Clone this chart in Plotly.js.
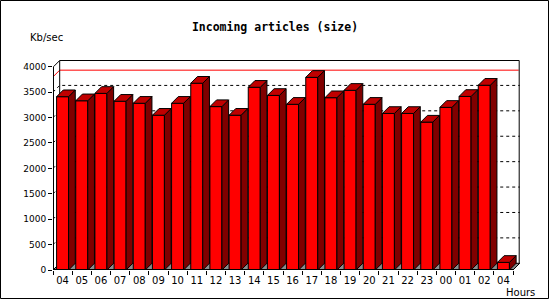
<!DOCTYPE html>
<html><head><meta charset="utf-8">
<script src="https://cdn.plot.ly/plotly-3.0.1.min.js"></script>
<style>html,body{margin:0;padding:0;background:#fff}#chart{width:550px;height:300px}</style>
</head><body><div id="chart"></div>
<script>
// ---- data ----
const hours = ['04','05','06','07','08','09','10','11','12','13','14','15','16','17','18','19','20','21','22','23','00','01','02','04'];
const articlesKb = [3410, 3330, 3475, 3320, 3280, 3045, 3280, 3675, 3215, 3045, 3595, 3435, 3260, 3790, 3390, 3535, 3260, 3080, 3080, 2910, 3200, 3415, 3635, 150];
const yTicks = [0, 500, 1000, 1500, 2000, 2500, 3000, 3500, 4000];
const refLine = 3800;

// ---- geometry (pixels -> axis units) ----
const W = 550, H = 300;
const mL = 53, mR = 30, mT = 59, mB = 30;
const plotW = W - mL - mR, plotH = H - mT - mB;
const n = hours.length;
const catW = 460 / n;                 // px per category
const ky = (270 - 66.7) / 4000;       // px per unit
const D = 6.7;                        // 3D depth px
const ddx = D / catW, ddy = D / ky;
const hw = 6 / catW;                  // half bar width
const xr = [-0.5, -0.5 + plotW / catW];
const yr = [0, plotH / ky];
const yMax = yTicks[yTicks.length - 1];
const xs = hours.map((_, i) => i);
const px = 1 / catW, py = 1 / ky;     // one pixel in units

// side & top faces
const sx = [], sy = [], tx = [], ty = [];
xs.forEach((x, i) => {
  const v = articlesKb[i];
  sx.push(x + hw, x + hw + ddx, x + hw + ddx, x + hw, x + hw, null);
  sy.push(0, ddy, v + ddy, v, 0, null);
  tx.push(x - hw, x - hw + ddx, x + hw + ddx, x + hw, x - hw, null);
  ty.push(v, v + ddy, v + ddy, v, v, null);
});

const traces = [
  {type: 'bar', x: xs, y: articlesKb, width: 2 * hw, xaxis: 'x', yaxis: 'y',
   marker: {color: '#ff0000', line: {color: '#000', width: 1}}, hoverinfo: 'skip'},
  {type: 'scatter', mode: 'lines', x: sx, y: sy, fill: 'toself', fillcolor: '#800000',
   line: {color: '#000', width: 1}, hoverinfo: 'skip'},
  {type: 'scatter', mode: 'lines', x: tx, y: ty, fill: 'toself', fillcolor: '#c00000',
   line: {color: '#000', width: 1}, hoverinfo: 'skip', xaxis: 'x2'}
];

const L0 = -0.5, R0 = n - 0.5;
const shapes = [];
// floor
shapes.push({type: 'path', layer: 'below', xref: 'x', yref: 'y',
  path: `M ${L0},${0} L ${L0 + ddx},${ddy} L ${R0 + ddx},${ddy} L ${R0},${0} Z`,
  fillcolor: '#8c8c8c', line: {color: '#000', width: 1}});
// grid lines (dotted) on left wall + back wall
yTicks.slice(1, -1).forEach(t => {
  shapes.push({type: 'path', layer: 'below', xref: 'x', yref: 'y',
    path: `M ${L0},${t} L ${L0 + ddx},${t + ddy} L ${R0 + ddx},${t + ddy}`,
    line: {color: '#000', width: 1, dash: '3px,3px'}});
});
// reference line (red)
shapes.push({type: 'path', layer: 'below', xref: 'x', yref: 'y',
  path: `M ${L0},${refLine} L ${L0 + ddx},${refLine + ddy} L ${R0 + ddx - px},${refLine + ddy}`,
  line: {color: '#ff0000', width: 1}});
// back wall frame
shapes.push({type: 'path', layer: 'below', xref: 'x', yref: 'y',
  path: `M ${L0 + ddx},${ddy} L ${L0 + ddx},${yMax + ddy - 0.5 * py} L ${R0 + ddx - 0.5 * px},${yMax + ddy - 0.5 * py} L ${R0 + ddx - 0.5 * px},${ddy}`,
  line: {color: '#000', width: 1}});
// left wall top edge + front y axis line
shapes.push({type: 'path', layer: 'above', xref: 'x', yref: 'y',
  path: `M ${L0 + ddx},${yMax + ddy - 0.5 * py} L ${L0 + 0.5 * px},${yMax} L ${L0 + 0.5 * px},${0}`,
  line: {color: '#000', width: 1}});
// front x axis line
shapes.push({type: 'line', layer: 'above', xref: 'x', yref: 'y',
  x0: L0, x1: R0, y0: 0.5 * py, y1: 0.5 * py, line: {color: '#000', width: 1}});
// outer border
const pxp = v => (v - mL) / plotW, pyp = v => (H - mB - v) / plotH;
shapes.push({type: 'rect', xref: 'paper', yref: 'paper',
  x0: pxp(0.5), x1: pxp(548.5), y0: pyp(0.5), y1: pyp(298.5),
  line: {color: '#000', width: 1}, fillcolor: 'rgba(0,0,0,0)'});

const tickFont = {family: 'DejaVu Sans', size: 9, color: '#000'};
const boundaries = Array.from({length: n + 1}, (_, i) => i - 0.5);

const layout = {
  width: W, height: H,
  margin: {l: mL, r: mR, t: mT, b: mB, pad: 0},
  paper_bgcolor: '#fff', plot_bgcolor: '#fff',
  showlegend: false, bargap: 0,
  title: {text: 'Incoming articles (size)', xref: 'container', x: 0.5, xanchor: 'center',
    yref: 'container', y: 1 - 27 / H, yanchor: 'middle',
    font: {family: 'DejaVu Sans Mono', size: 11.5, weight: 'bold', color: '#000'}},
  xaxis: {range: xr, tickmode: 'array', tickvals: boundaries, showticklabels: false,
    ticks: 'outside', ticklen: 4, tickcolor: '#000', tickwidth: 1,
    showgrid: false, zeroline: false, showline: false, fixedrange: true},
  xaxis2: {range: xr, overlaying: 'x', anchor: 'y', side: 'bottom', tickmode: 'array',
    tickvals: xs, ticktext: hours, ticks: 'outside', ticklen: 1, tickcolor: 'rgba(0,0,0,0)',
    tickfont: {family: 'DejaVu Sans', size: 10, color: '#000'},
    showgrid: false, zeroline: false, showline: false, fixedrange: true},
  yaxis: {range: yr, tickmode: 'array', tickvals: yTicks, ticktext: yTicks.map(String),
    ticks: 'outside', ticklen: 4, tickcolor: '#000', tickwidth: 1, tickfont: tickFont,
    showgrid: false, zeroline: false, showline: false, fixedrange: true},
  shapes: shapes,
  annotations: [
    {text: 'Kb/sec', xref: 'paper', yref: 'paper', x: pxp(28), y: pyp(38), xanchor: 'left', yanchor: 'middle',
     showarrow: false, font: {family: 'DejaVu Sans', size: 10, color: '#000'}},
    {text: 'Hours', xref: 'paper', yref: 'paper', x: pxp(504), y: pyp(292), xanchor: 'left', yanchor: 'middle',
     showarrow: false, font: {family: 'DejaVu Sans', size: 10, color: '#000'}}
  ]
};

Plotly.newPlot('chart', traces, layout, {displayModeBar: false, staticPlot: true});
</script></body></html>
